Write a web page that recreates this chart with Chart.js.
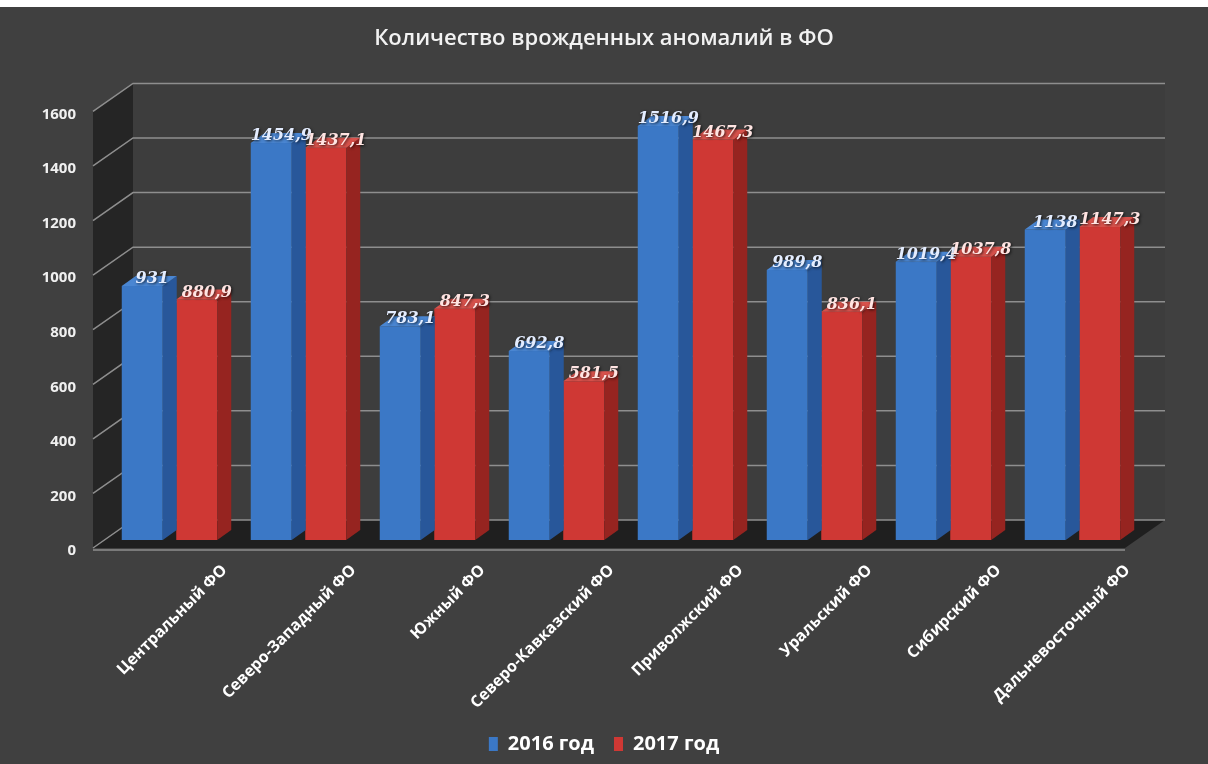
<!DOCTYPE html>
<html>
<head>
<meta charset="utf-8">
<script src="https://cdn.jsdelivr.net/npm/chart.js@4/dist/chart.umd.min.js"></script>
<style>
  html, body { margin: 0; padding: 0; background: #404040; }
  #wrap { width: 1208px; height: 764px; }
</style>
</head>
<body>
<div id="wrap"><canvas id="anomalyChart" width="1208" height="764"></canvas></div>
<script>
const categories = ['Центральный ФО', 'Северо-Западный ФО', 'Южный ФО', 'Северо-Кавказский ФО',
                    'Приволжский ФО', 'Уральский ФО', 'Сибирский ФО', 'Дальневосточный ФО'];
const values2016 = [931, 1454.9, 783.1, 692.8, 1516.9, 989.8, 1019.4, 1138];
const values2017 = [880.9, 1437.1, 847.3, 581.5, 1467.3, 836.1, 1037.8, 1147.3];
const seriesNames = ['2016 год', '2017 год'];
const yMin = 0, yMax = 1600, yStep = 200;

// 3d look: wall depth, bar shift into the box, and bar depth
const wall = { dx: 40, dy: 28 };
const shift = { x: 12, y: -8 };
const barDepth = { x: 14, y: 10 };

const faceColors = [
    { front: '#3b78c6', side: '#28579a', top: '#4a86d2', label: '#e4edff' },
    { front: '#cf3834', side: '#962420', top: '#d8524c', label: '#ffe4e2' }
];

const box3d = {
    id: 'box3d',
    beforeDraw(chart) {
        const { ctx, chartArea: a, scales: { y } } = chart;
        ctx.save();
        ctx.fillStyle = '#404040';
        ctx.fillRect(0, 0, chart.width, chart.height);
        ctx.fillStyle = '#ffffff';
        ctx.fillRect(0, 0, chart.width, 7);

        const top = y.getPixelForValue(yMax), bot = y.getPixelForValue(yMin);
        // back wall
        ctx.fillStyle = '#3d3d3d';
        ctx.fillRect(a.left + wall.dx, top - wall.dy, a.right - a.left, bot - top);
        // left wall
        ctx.fillStyle = '#252525';
        ctx.beginPath();
        ctx.moveTo(a.left, bot);
        ctx.lineTo(a.left, top);
        ctx.lineTo(a.left + wall.dx, top - wall.dy);
        ctx.lineTo(a.left + wall.dx, bot - wall.dy);
        ctx.closePath();
        ctx.fill();
        // floor
        ctx.fillStyle = '#1f1f1f';
        ctx.beginPath();
        ctx.moveTo(a.left, bot);
        ctx.lineTo(a.right, bot);
        ctx.lineTo(a.right + wall.dx, bot - wall.dy);
        ctx.lineTo(a.left + wall.dx, bot - wall.dy);
        ctx.closePath();
        ctx.fill();

        // grid on the walls
        ctx.strokeStyle = '#8e8e8e';
        ctx.lineWidth = 1.5;
        y.ticks.forEach(t => {
            const py = y.getPixelForValue(t.value);
            ctx.beginPath();
            ctx.moveTo(a.left, py);
            ctx.lineTo(a.left + wall.dx, py - wall.dy);
            ctx.lineTo(a.right + wall.dx, py - wall.dy);
            ctx.stroke();
        });
        // front edge of the floor
        ctx.beginPath();
        ctx.moveTo(a.left, bot + 2);
        ctx.lineTo(a.right, bot + 2);
        ctx.stroke();
        ctx.restore();
    },
    beforeDatasetsDraw(chart) {
        chart.ctx.save();
        chart.ctx.translate(shift.x, shift.y);
    },
    afterDatasetsDraw(chart) {
        const ctx = chart.ctx;
        chart.data.datasets.forEach((ds, i) => {
            const c = faceColors[i];
            chart.getDatasetMeta(i).data.forEach(bar => {
                const { x, y, base, width } = bar.getProps(['x', 'y', 'base', 'width'], true);
                const l = x - width / 2, r = x + width / 2;
                // side
                ctx.fillStyle = c.side;
                ctx.beginPath();
                ctx.moveTo(r, y);
                ctx.lineTo(r + barDepth.x, y - barDepth.y);
                ctx.lineTo(r + barDepth.x, base - barDepth.y);
                ctx.lineTo(r, base);
                ctx.closePath();
                ctx.fill();
                // top
                ctx.fillStyle = c.top;
                ctx.beginPath();
                ctx.moveTo(l, y);
                ctx.lineTo(r, y);
                ctx.lineTo(r + barDepth.x, y - barDepth.y);
                ctx.lineTo(l + barDepth.x, y - barDepth.y);
                ctx.closePath();
                ctx.fill();
            });
        });
        // value labels
        ctx.font = 'italic bold 16px "DejaVu Serif"';
        ctx.textAlign = 'center';
        ctx.textBaseline = 'middle';
        ctx.shadowColor = 'rgba(0,0,0,0.75)';
        ctx.shadowBlur = 3;
        ctx.shadowOffsetX = 1;
        ctx.shadowOffsetY = 1;
        chart.data.datasets.forEach((ds, i) => {
            ctx.fillStyle = faceColors[i].label;
            chart.getDatasetMeta(i).data.forEach((bar, j) => {
                const { x, y } = bar.getProps(['x', 'y'], true);
                ctx.fillText(String(ds.data[j]).replace('.', ','), x + 10, y - 7);
            });
        });
        ctx.restore();
    }
};

new Chart(document.getElementById('anomalyChart'), {
    type: 'bar',
    data: {
        labels: categories,
        datasets: [
            { label: seriesNames[0], data: values2016, backgroundColor: faceColors[0].front },
            { label: seriesNames[1], data: values2017, backgroundColor: faceColors[1].front }
        ]
    },
    options: {
        responsive: false,
        animation: false,
        categoryPercentage: 0.845,
        barPercentage: 0.752,
        layout: { padding: { top: 8, left: 0, right: 0, bottom: 0 } },
        scales: {
            x: {
                grid: { display: false, drawTicks: false },
                border: { display: false },
                ticks: {
                    color: '#ffffff',
                    font: { family: 'Open Sans', size: 16, weight: 'bold' },
                    minRotation: 45,
                    maxRotation: 45,
                    autoSkip: false,
                    labelOffset: 67,
                    padding: 13
                },
                afterFit(scale) { scale.height = 166; }
            },
            y: {
                min: yMin,
                max: yMax,
                grid: { display: false, drawTicks: false },
                border: { display: false },
                ticks: {
                    stepSize: yStep,
                    color: '#f0f0f0',
                    font: { family: 'Open Sans', size: 15, weight: 'bold' },
                    padding: 17,
                    labelOffset: 3,
                    callback: v => String(v)
                },
                afterFit(scale) { scale.width = 93; }
            },
            // empty right axis keeps the room on the right, so title and legend stay centred on the page
            spacer: {
                position: 'right',
                grid: { display: false, drawTicks: false },
                border: { display: false },
                ticks: { display: false },
                afterFit(scale) { scale.width = 83; }
            }
        },
        plugins: {
            title: {
                display: true,
                text: 'Количество врожденных аномалий в ФО',
                color: '#f2f2f2',
                font: { family: 'Open Sans', size: 22, weight: '600' },
                padding: { top: 18, bottom: 59 }
            },
            legend: {
                position: 'bottom',
                labels: {
                    color: '#ffffff',
                    boxWidth: 9,
                    boxHeight: 14,
                    padding: 20,
                    font: { family: 'Open Sans', size: 20, weight: 'bold' }
                }
            },
            tooltip: { enabled: false }
        }
    },
    plugins: [box3d]
});
</script>
</body>
</html>
